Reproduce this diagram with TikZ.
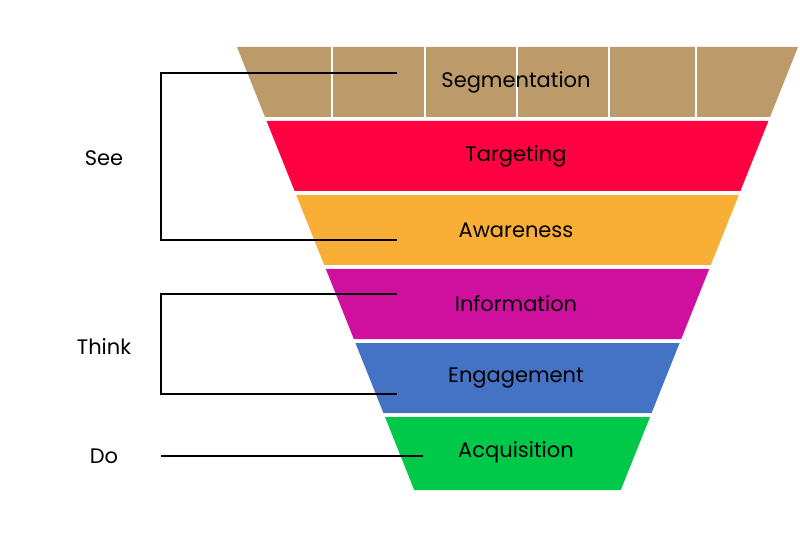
\documentclass[tikz,border=0pt]{standalone}
\usepackage{fontspec}
\setmainfont{Poppins}
\definecolor{segtan}{HTML}{BC9A6A}
\definecolor{tgtred}{HTML}{FF0040}
\definecolor{awaorange}{HTML}{F9AE36}
\definecolor{infomag}{HTML}{CF0F9E}
\definecolor{engblue}{HTML}{4472C4}
\definecolor{acqgreen}{HTML}{00C94A}
\tikzset{
  bandlabel/.style={font=\fontsize{21}{24}\selectfont, text=black},
  sidelabel/.style={font=\fontsize{21}{24}\selectfont, text=black},
  bracket/.style={draw=black, line width=1.2pt}
}

\begin{document}
\begin{tikzpicture}[x=1pt,y=-1pt]
    \useasboundingbox (0,0) rectangle (800,537);
    % funnel bands: top, bottom, colour
    \foreach \t/\b/\c in {47/117/segtan, 121/191/tgtred, 195/265/awaorange,
        269/339/infomag, 343/413/engblue, 417/490/acqgreen}
      \fill[\c] ({237+0.4*(\t-47)},\t) -- ({798-0.4*(\t-47)},\t)
        -- ({798-0.4*(\b-47)},\b) -- ({237+0.4*(\b-47)},\b) -- cycle;
    % dividers of the top band
    \foreach \x in {332,425,517,609,696}
      \draw[white, line width=1.2pt] (\x,47) -- (\x,117);
    \foreach \y/\name/\txt in {82/seg/Segmentation, 156/tgt/Targeting,
        230/awa/Awareness, 304/info/Information, 378/eng/Engagement,
        452/acq/Acquisition}
      \node[bandlabel] (\name) at (516,\y) {\txt};

    \node[sidelabel] (see) at (104,158) {See};
    \node[sidelabel] (think) at (104,347) {Think};
    \node[sidelabel] (do) at (104,456) {Do};

    \coordinate (see-top) at (397,73);
    \coordinate (see-bot) at (397,240);
    \coordinate (think-top) at (397,294);
    \coordinate (think-bot) at (397,394);
    \coordinate (do-end) at (423,456);
    \draw[bracket] (see-top) -- (161,73) -- (161,240) -- (see-bot);
    \draw[bracket] (think-top) -- (161,294) -- (161,394) -- (think-bot);
    \draw[bracket] (161,456) -- (do-end);
\end{tikzpicture}
\end{document}
